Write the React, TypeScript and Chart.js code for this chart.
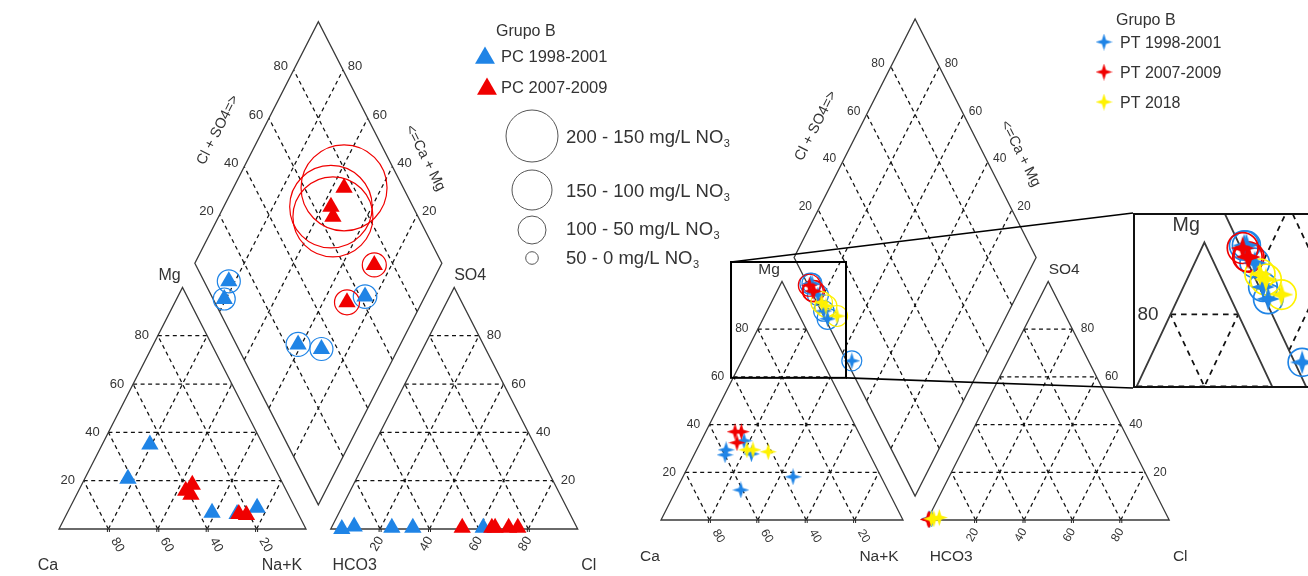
import React, { useEffect, useRef } from "react";
import { Chart, registerables } from "chart.js";

Chart.register(...registerables);

const H = Math.sqrt(3) / 2;
const FONT = '"Liberation Sans", Arial, Helvetica, sans-serif';
const INK = "#333333";

// ---------------- tick values / labels ----------------
const TICKS = [20, 40, 60, 80];
const tickLabels = ["20", "40", "60", "80"];

// ---------------- Grupo B, PC (left diagram) ----------------
const pcTitle = "Grupo B";
const pcNames = ["PC 1998-2001", "PC 2007-2009"];
// PC 1998-2001
const pcA_Mg = [20.8, 35, 6.7, 6.2, 8.8];
const pcA_NaK = [17.5, 19.3, 58.6, 69, 75.8];
const pcA_SO4 = [1, 0, 0.5, 0.5, 0.5];
const pcA_Cl = [9, 4.5, 24.5, 33, 61.5];
const pcA_NO3 = [46, 44, 48, 46, 47];
// PC 2007-2009
const pcB_Mg = [18.3, 15.8, 14.2, 5.8, 6.2];
const pcB_NaK = [44.8, 43.4, 46.3, 73, 69.7];
const pcB_SO4 = [0.5, 0.5, 0.5, 0.5, 0.5];
const pcB_Cl = [75.5, 66.3, 65, 71.8, 53];
const pcB_NO3 = [172, 165, 160, 48, 50];

const no3Classes = ["200 - 150", "150 - 100", "100 - 50", "50 - 0"];

// ---------------- Grupo B, PT (right diagram) ----------------
const ptTitle = "Grupo B";
const ptNames = ["PT 1998-2001", "PT 2007-2009", "PT 2018"];
// PT 1998-2001
const ptA_Mg = [29.4, 27.3, 33.2, 27.7, 18.1, 12.6];
const ptA_NaK = [12.2, 12.8, 17.7, 23.5, 45.5, 26.7];
const ptA_SO4 = [0.3, 0.5, 0.5, 0.3, 0.5, 0.5];
const ptA_Cl = [1, 1.5, 1.5, 0.8, 1.7, 0.5];
const ptA_NO3 = [42, 40, 42, 41, 40, 42];
// PT 2007-2009
const ptB_Mg = [37, 37, 32.4];
const ptB_NaK = [12.1, 14.7, 15.2];
const ptB_SO4 = [0.2, 0.2, 0.3];
const ptB_Cl = [0.3, 0.5, 0.8];
const ptB_NO3 = [44, 42, 43];
// PT 2018
const ptC_Mg = [29.4, 29.4, 28.6];
const ptC_NaK = [20.8, 23.3, 30];
const ptC_SO4 = [0.5, 0.5, 1];
const ptC_Cl = [1.5, 2.5, 4.5];
const ptC_NO3 = [43, 44, 42];

const BLUE = "#1f84e6";
const RED = "#f00000";
const YELLOW = "#fff200";

// ---------------- layout (pixels) ----------------
const LEFT_VIEW = { left: 0, top: 0, width: 800, height: 576, ox: 59, oy: 529, sx: 2.47, sy: 2.79 };
const RIGHT_VIEW = { left: 600, top: 0, width: 708, height: 576, ox: 661, oy: 520, sx: 2.42, sy: 2.755 };
const INSET_BOX = { left: 1133, top: 213, width: 190, height: 175, x0: 28.93, x1: 76.45, y0: 51.6, y1: 93.65, magX: 1.4 };

type Series = { name: string; color: string; mg: number[]; nak: number[]; so4: number[]; cl: number[]; no3: number[] };

const pcSeries: Series[] = [
  { name: pcNames[1], color: RED, mg: pcB_Mg, nak: pcB_NaK, so4: pcB_SO4, cl: pcB_Cl, no3: pcB_NO3 },
  { name: pcNames[0], color: BLUE, mg: pcA_Mg, nak: pcA_NaK, so4: pcA_SO4, cl: pcA_Cl, no3: pcA_NO3 },
];
const ptSeries: Series[] = [
  { name: ptNames[2], color: YELLOW, mg: ptC_Mg, nak: ptC_NaK, so4: ptC_SO4, cl: ptC_Cl, no3: ptC_NO3 },
  { name: ptNames[1], color: RED, mg: ptB_Mg, nak: ptB_NaK, so4: ptB_SO4, cl: ptB_Cl, no3: ptB_NO3 },
  { name: ptNames[0], color: BLUE, mg: ptA_Mg, nak: ptA_NaK, so4: ptA_SO4, cl: ptA_Cl, no3: ptA_NO3 },
];

// Piper transforms (diagram units: triangle side = 100)
const cationPts = (s: Series) => s.mg.map((m, i) => ({ x: s.nak[i] + m / 2, y: m * H }));
const anionPts = (s: Series) => s.so4.map((v, i) => ({ x: 110 + s.cl[i] + v / 2, y: v * H }));
const dPos = (a: number, t: number) => [105 + 0.5 * (t - a), 10 * H + H * (a + t)];
const diamondPts = (s: Series) =>
  s.nak.map((n, i) => {
    const p = dPos(100 - n, s.so4[i] + s.cl[i]);
    return { x: p[0], y: p[1] };
  });

function starCanvas(color: string, size: number) {
  const c = document.createElement("canvas");
  c.width = size;
  c.height = size;
  const g = c.getContext("2d")!;
  const h = size / 2;
  const w = size * 0.12;
  g.fillStyle = color;
  g.beginPath();
  g.moveTo(h, 0);
  g.lineTo(h + w, h - w);
  g.lineTo(size, h);
  g.lineTo(h + w, h + w);
  g.lineTo(h, size);
  g.lineTo(h - w, h + w);
  g.lineTo(0, h);
  g.lineTo(h - w, h - w);
  g.closePath();
  g.fill();
  return c;
}

function buildDatasets(series: Series[], kind: "triangle" | "star", mag: number) {
  const marks: any[] = [];
  const rings: any[] = [];
  series.forEach((s) => {
    const marker =
      kind === "triangle"
        ? { pointStyle: "triangle", pointRadius: 10 * mag, pointBackgroundColor: s.color, pointBorderColor: s.color, pointBorderWidth: 0 }
        : { pointStyle: starCanvas(s.color, Math.round(17 * mag)), pointRadius: 6 * mag, pointBackgroundColor: s.color, pointBorderColor: s.color, pointBorderWidth: 0 };
    marks.push({ label: s.name + " cationes", data: cationPts(s), ...marker });
    marks.push({ label: s.name + " aniones", data: anionPts(s), ...marker });
    marks.push({ label: s.name + " rombo", data: diamondPts(s), ...marker });
    rings.push({
      label: s.name + " NO3",
      data: diamondPts(s),
      pointStyle: "circle",
      pointBackgroundColor: "rgba(0,0,0,0)",
      pointBorderColor: s.color,
      pointBorderWidth: 1.2 * mag,
      pointRadius: (c: any) => (s.no3[c.dataIndex] / 4) * mag,
    });
  });
  return [...marks, ...rings];
}

function txt(ctx: CanvasRenderingContext2D, s: string, x: number, y: number, size: number, align: CanvasTextAlign = "left", rot = 0) {
  ctx.save();
  ctx.translate(x, y);
  ctx.rotate(rot);
  ctx.font = `${size}px ${FONT}`;
  ctx.fillStyle = INK;
  ctx.textAlign = align;
  ctx.textBaseline = "middle";
  ctx.fillText(s, 0, 0);
  ctx.restore();
}

function drawPCLegend(ctx: CanvasRenderingContext2D, ox: number) {
  txt(ctx, pcTitle, 496 - ox, 32, 16);
  const tri = (x: number, y: number, r: number, c: string) => {
    ctx.beginPath();
    ctx.moveTo(x, y - r);
    ctx.lineTo(x + r * H, y + r / 2);
    ctx.lineTo(x - r * H, y + r / 2);
    ctx.closePath();
    ctx.fillStyle = c;
    ctx.fill();
  };
  tri(485 - ox, 58, 11.5, BLUE);
  txt(ctx, pcNames[0], 501 - ox, 57, 16.5);
  tri(487 - ox, 89, 11.5, RED);
  txt(ctx, pcNames[1], 501 - ox, 88, 16.5);
  const rows = [
    { cy: 136, r: 26, ty: 138 },
    { cy: 190, r: 20, ty: 192 },
    { cy: 230, r: 14, ty: 230 },
    { cy: 258, r: 6.3, ty: 259 },
  ];
  rows.forEach((row, i) => {
    ctx.beginPath();
    ctx.arc(532 - ox, row.cy, row.r, 0, Math.PI * 2);
    ctx.strokeStyle = "#555";
    ctx.lineWidth = 1;
    ctx.stroke();
    const s = `${no3Classes[i]} mg/L NO`;
    ctx.font = `18.5px ${FONT}`;
    const w = ctx.measureText(s).width;
    txt(ctx, s, 566 - ox, row.ty, 18.5);
    txt(ctx, "3", 566 - ox + w + 0.5, row.ty + 6, 11);
  });
}

const legendStars: Record<string, HTMLCanvasElement> = {};
function drawPTLegend(ctx: CanvasRenderingContext2D, ox: number) {
  txt(ctx, ptTitle, 1116 - ox, 21, 16);
  const cols = [BLUE, RED, YELLOW];
  const ys = [43, 73, 103];
  ptNames.forEach((n, i) => {
    const key = cols[i];
    if (!legendStars[key]) legendStars[key] = starCanvas(key, 17);
    const st = legendStars[key];
    ctx.drawImage(st, 1104 - ox - st.width / 2, ys[i] - 1 - st.height / 2);
    txt(ctx, n, 1120 - ox, ys[i] + 1, 16);
  });
}

const piperPlugin = {
  id: "piper",
  beforeDatasetsDraw(chart: any, _args: any, o: any) {
    const ctx: CanvasRenderingContext2D = chart.ctx;
    const X = chart.scales.x;
    const Y = chart.scales.y;
    const m: number = o.mag;
    const P = (u: number, v: number) => [X.getPixelForValue(u), Y.getPixelForValue(v)];
    const path = (pts: number[][], close: boolean) => {
      ctx.beginPath();
      pts.forEach((p, i) => {
        const q = P(p[0], p[1]);
        if (i) ctx.lineTo(q[0], q[1]);
        else ctx.moveTo(q[0], q[1]);
      });
      if (close) ctx.closePath();
      ctx.stroke();
    };
    ctx.save();
    // dashed grid
    ctx.setLineDash([4 * m, 3.5 * m]);
    ctx.strokeStyle = "#111111";
    ctx.lineWidth = 1.25 * m;
    for (const k of TICKS) {
      for (const off of [0, 110]) {
        path([[off + k / 2, k * H], [off + 100 - k / 2, k * H]], false);
        path([[off + k, 0], [off + 50 + k / 2, (100 - k) * H]], false);
        path([[off + 100 - k, 0], [off + (100 - k) / 2, (100 - k) * H]], false);
      }
      path([dPos(k, 0), dPos(k, 100)], false);
      path([dPos(0, k), dPos(100, k)], false);
    }
    ctx.setLineDash([]);
    // outlines
    ctx.strokeStyle = "#3a3a3a";
    ctx.lineWidth = 1.3 * m;
    path([[0, 0], [100, 0], [50, 100 * H]], true);
    path([[110, 0], [210, 0], [160, 100 * H]], true);
    path([dPos(0, 0), dPos(100, 0), dPos(100, 100), dPos(0, 100)], true);
    // base ticks
    ctx.lineWidth = 1 * m;
    ctx.strokeStyle = "#222";
    for (const k of TICKS) {
      for (const u of [k, 110 + k]) {
        const q = P(u, 0);
        for (const d of [-1, 1]) {
          ctx.beginPath();
          ctx.moveTo(q[0] + d * m, q[1]);
          ctx.lineTo(q[0] + d * m, q[1] + 3 * m);
          ctx.stroke();
        }
      }
    }
    const ts = o.tickSize * m;
    const ls = o.labelSize * m;
    const lab = (s: string, u: number, v: number, dx: number, dy: number, size: number, rot = 0) => {
      const q = P(u, v);
      txt(ctx, s, q[0] + dx * m, q[1] + dy * m, size, "center", rot);
    };
    TICKS.forEach((k, i) => {
      const s = tickLabels[i];
      lab(s, k / 2, k * H, -16, 0, ts); // Mg
      lab(s, 210 - k / 2, k * H, 15, 0, ts); // SO4
      lab(s, 100 - k, 0, 9, 16, ts, Math.PI / 3); // Ca
      lab(s, 110 + k, 0, -3, 15, ts, -Math.PI / 3); // Cl
      const l = dPos(100, k);
      lab(s, l[0], l[1], -13, -3, ts); // Cl+SO4
      const r = dPos(k, 100);
      lab(s, r[0], r[1], 12, -3, ts); // Ca+Mg
    });
    lab("Mg", 50, 100 * H, -13, -12, ls);
    lab("SO4", 160, 100 * H, 16, -12, ls);
    lab("Ca", 0, 0, -11, 37, ls);
    lab("Na+K", 100, 0, -24, 37, ls);
    lab("HCO3", 110, 0, 24, 37, ls);
    lab("Cl", 210, 0, 11, 37, ls);
    const edgeLabel = (s: string, A: number[], B: number[], frac: number, dist: number) => {
      const a = P(A[0], A[1]);
      const b = P(B[0], B[1]);
      const dx = b[0] - a[0];
      const dy = b[1] - a[1];
      const len = Math.hypot(dx, dy);
      const ux = dx / len;
      const uy = dy / len;
      const px = a[0] + dx * frac + uy * dist * m;
      const py = a[1] + dy * frac - ux * dist * m;
      txt(ctx, s, px, py, o.edgeSize * m, "center", Math.atan2(dy, dx));
    };
    edgeLabel("Cl + SO4=>", dPos(100, 0), dPos(100, 100), 0.476, 40);
    edgeLabel("<=Ca + Mg", dPos(100, 100), dPos(0, 100), 0.627, 33);
    ctx.restore();
  },
  afterDatasetsDraw(chart: any, _args: any, o: any) {
    const ctx: CanvasRenderingContext2D = chart.ctx;
    ctx.save();
    if (o.legend === "pc") drawPCLegend(ctx, o.originX);
    if (o.legend === "pt") drawPTLegend(ctx, o.originX);
    if (o.box) {
      const X = chart.scales.x;
      const Y = chart.scales.y;
      const b = o.box;
      const x0 = X.getPixelForValue(b.x0);
      const x1 = X.getPixelForValue(b.x1);
      const y0 = Y.getPixelForValue(b.y1);
      const y1 = Y.getPixelForValue(b.y0);
      ctx.strokeStyle = "#000";
      ctx.lineWidth = 2;
      ctx.strokeRect(x0, y0, x1 - x0, y1 - y0);
      ctx.lineWidth = 1.6;
      ctx.beginPath();
      ctx.moveTo(x0, y0);
      ctx.lineTo(b.tlX, b.tlY);
      ctx.moveTo(x1, y1);
      ctx.lineTo(b.blX, b.blY);
      ctx.stroke();
    }
    if (o.border) {
      const a = chart.chartArea;
      ctx.strokeStyle = "#111";
      ctx.lineWidth = 2;
      ctx.strokeRect(a.left + 1, a.top + 1, a.right - a.left - 2 + 40, a.bottom - a.top - 2);
    }
    ctx.restore();
  },
};

function makeConfig(range: { xmin: number; xmax: number; ymin: number; ymax: number }, datasets: any[], piper: any) {
  return {
    type: "scatter" as const,
    data: { datasets },
    options: {
      animation: false as const,
      responsive: true,
      maintainAspectRatio: false,
      events: [] as any[],
      layout: { padding: 0, autoPadding: false },
      scales: {
        x: { type: "linear" as const, display: false, min: range.xmin, max: range.xmax },
        y: { type: "linear" as const, display: false, min: range.ymin, max: range.ymax },
      },
      plugins: { legend: { display: false }, tooltip: { enabled: false }, piper },
    },
    plugins: [piperPlugin],
  };
}

function viewRange(v: typeof LEFT_VIEW) {
  return {
    xmin: (v.left - v.ox) / v.sx,
    xmax: (v.left + v.width - v.ox) / v.sx,
    ymax: (v.oy - v.top) / v.sy,
    ymin: (v.oy - v.top - v.height) / v.sy,
  };
}

export default function App() {
  const leftRef = useRef<HTMLCanvasElement>(null);
  const rightRef = useRef<HTMLCanvasElement>(null);
  const insetRef = useRef<HTMLCanvasElement>(null);

  useEffect(() => {
    const ib = INSET_BOX;
    const insetRange = {
      xmin: ib.x0,
      xmax: ib.x0 + ib.width / (RIGHT_VIEW.sx * ib.magX),
      ymin: ib.y0,
      ymax: ib.y1,
    };
    const charts = [
      new Chart(
        leftRef.current!,
        makeConfig(viewRange(LEFT_VIEW), buildDatasets(pcSeries, "triangle", 1), {
          mag: 1, tickSize: 13, labelSize: 16, edgeSize: 14.5, legend: "pc", originX: LEFT_VIEW.left,
        }) as any
      ),
      new Chart(
        rightRef.current!,
        makeConfig(viewRange(RIGHT_VIEW), buildDatasets(ptSeries, "star", 1), {
          mag: 1, tickSize: 12, labelSize: 15.5, edgeSize: 14.5, legend: "pt", originX: RIGHT_VIEW.left,
          box: {
            x0: ib.x0, x1: ib.x1, y0: ib.y0, y1: ib.y1,
            tlX: ib.left - RIGHT_VIEW.left, tlY: ib.top,
            blX: ib.left - RIGHT_VIEW.left, blY: ib.top + ib.height,
          },
        }) as any
      ),
      new Chart(
        insetRef.current!,
        makeConfig(insetRange, buildDatasets(ptSeries, "star", 1.4), {
          mag: 1.4, tickSize: 13.5, labelSize: 14, edgeSize: 14.5, legend: null, originX: 0, border: true,
        }) as any
      ),
    ];
    return () => charts.forEach((c) => c.destroy());
  }, []);

  return (
    <div style={{ position: "fixed", left: 0, top: 0, width: 1308, height: 576, overflow: "hidden", background: "#ffffff" }}>
      <div style={{ position: "absolute", left: LEFT_VIEW.left, top: LEFT_VIEW.top, width: LEFT_VIEW.width, height: LEFT_VIEW.height }}>
        <canvas ref={leftRef} />
      </div>
      <div style={{ position: "absolute", left: RIGHT_VIEW.left, top: RIGHT_VIEW.top, width: RIGHT_VIEW.width, height: RIGHT_VIEW.height }}>
        <canvas ref={rightRef} />
      </div>
      <div style={{ position: "absolute", left: INSET_BOX.left, top: INSET_BOX.top, width: INSET_BOX.width, height: INSET_BOX.height, background: "#ffffff" }}>
        <canvas ref={insetRef} />
      </div>
    </div>
  );
}
